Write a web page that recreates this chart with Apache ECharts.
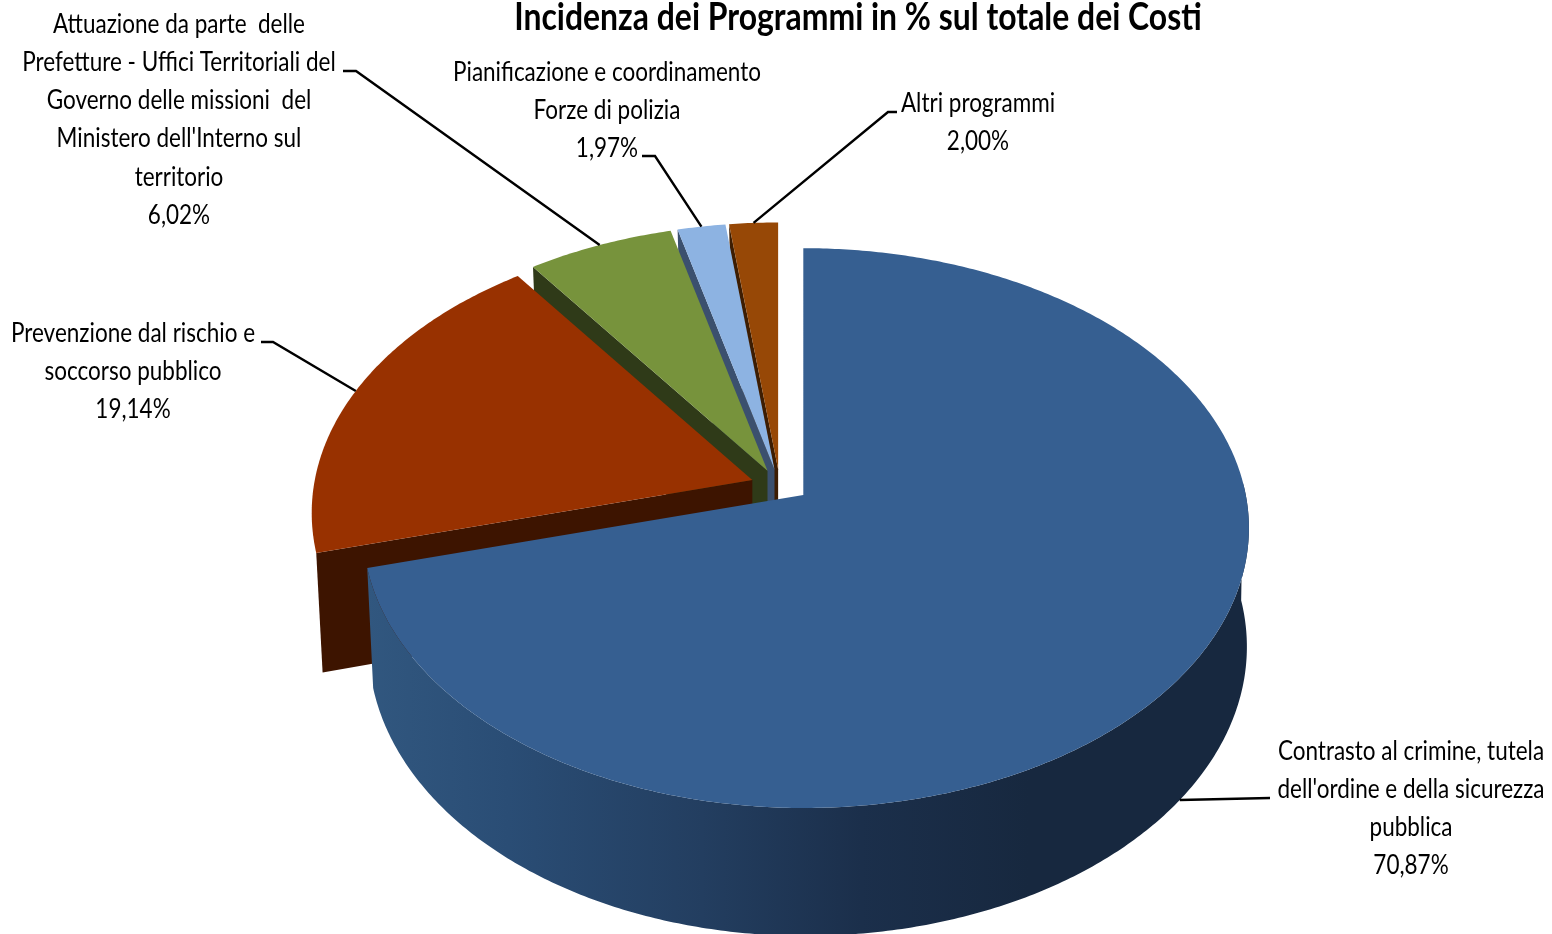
<!DOCTYPE html>
<html>
<head>
<meta charset="utf-8">
<style>html,body{margin:0;padding:0;background:#fff;overflow:hidden}#c{width:1552px;height:934px}</style>
<script src="https://cdn.jsdelivr.net/npm/echarts@6/dist/echarts.min.js"></script>
</head>
<body>
<div id="c"></div>
<script>
const chartTitle = "Incidenza dei Programmi in % sul totale dei Costi";
const categories = [
  "Contrasto al crimine, tutela\ndell'ordine e della sicurezza\npubblica",
  "Prevenzione dal rischio e\nsoccorso pubblico",
  "Attuazione da parte  delle\nPrefetture - Uffici Territoriali del\nGoverno delle missioni  del\nMinistero dell'Interno sul\nterritorio",
  "Pianificazione e coordinamento\nForze di polizia",
  "Altri programmi"
];
const values = [70.87, 19.14, 6.02, 1.97, 2.00];
const valueLabels = ["70,87%", "19,14%", "6,02%", "1,97%", "2,00%"];

// styling
const topColors = ["#365f91", "#983100", "#77933c", "#8db3e2", "#974806"];
const sideColors = ["#17283f", "#3d1400", "#2f3a18", "#3b506e", "#3d1d02"];
const FONT = 'Lato,"Liberation Sans",sans-serif';

// projection of the exploded pie (layout only)
const VIEW = {cx: 780, cy: 485.3, ex: 29.4, ey: 16, rxRight: 442.5, rxLeft: 437.5, ry: 276, k: 0.118,
              vx: 1024, vy: 495, sx: 0.991, sy: 1.033, dy: 117.6};
// label placement (layout only)
const labelBox = [
  {x: 1411, y: 732},
  {x: 133, y: 314},
  {x: 179, y: 5},
  {x: 607, y: 53},
  {x: 978, y: 84}
];
const leaderElbow = [
  [[1270, 798]],
  [[273, 342], [261, 342]],
  [[356, 71], [343, 71]],
  [[655, 156], [642, 156]],
  [[888, 112], [897, 112]]
];
const LINE_H = 38.3;
const LABEL_SCALE = 0.865;
const TITLE_SCALE = 0.84;

const total = values.reduce((a, b) => a + b, 0);
const starts = [];
values.reduce((acc, v, i) => { starts[i] = acc; return acc + v; }, 0);

function apex(i) {
  const mid = (starts[i] + values[i] / 2) / total * 2 * Math.PI;
  return [VIEW.cx + VIEW.ex * Math.sin(mid), VIEW.cy - VIEW.ey * Math.cos(mid)];
}
function rim(i, theta) {
  const a = apex(i);
  const u = Math.sin(theta), v = Math.cos(theta), w = 1 + VIEW.k * v;
  return [a[0] + (u < 0 ? VIEW.rxLeft : VIEW.rxRight) * u / w, a[1] - VIEW.ry * v / w];
}
function lower(p) {
  return [VIEW.vx + (p[0] - VIEW.vx) * VIEW.sx, VIEW.vy + (p[1] - VIEW.vy) * VIEW.sy + VIEW.dy];
}

function renderSlice(params, api) {
  const i = params.dataIndex;
  const val = api.value(0);
  const t0 = starts[i] / total * 2 * Math.PI;
  const t1 = (starts[i] + val) / total * 2 * Math.PI;
  const steps = Math.max(6, Math.ceil((t1 - t0) / 0.01));
  const arc = [], frontArc = [];
  for (let s = 0; s <= steps; s++) {
    const t = t0 + (t1 - t0) * s / steps;
    const p = rim(i, t);
    arc.push(p);
    if (Math.cos(t) < 0.05) frontArc.push(p);
  }
  const a = apex(i);
  const base = (values.length - i) * 10;
  const children = [];
  if (i > 0) {
    // the cut edge that faces the viewer
    children.push({
      type: "polygon", z2: base,
      shape: {points: [a, arc[0], lower(arc[0]), [a[0], lower(a)[1]]]},
      style: {fill: sideColors[i]}
    });
  } else {
    // the rounded outer wall of the main slice, shaded from left to right
    children.push({
      type: "polygon", z2: base + 1,
      shape: {points: frontArc.concat(frontArc.map(lower).reverse())},
      style: {
        fill: new echarts.graphic.LinearGradient(367, 0, 1249, 0, [
          {offset: 0, color: "#31577f"},
          {offset: 0.16, color: "#2a4d75"},
          {offset: 0.38, color: "#233e60"},
          {offset: 0.56, color: "#1b2f4b"},
          {offset: 0.75, color: sideColors[0]},
          {offset: 1, color: sideColors[0]}
        ], true)
      }
    });
  }
  children.push({
    type: "polygon", z2: base + 2,
    shape: {points: [a].concat(arc)},
    style: {fill: topColors[i]}
  });
  // leader line
  const midT = (t0 + t1) / 2;
  let anchor = rim(i, midT);
  if (Math.cos(midT) < 0) anchor = lower(anchor);
  children.push({
    type: "polyline", z2: 900,
    shape: {points: [anchor].concat(leaderElbow[i])},
    style: {stroke: "#000", lineWidth: 2.4, fill: null}
  });
  // label
  children.push({
    type: "text", z2: 1000,
    x: labelBox[i].x, y: labelBox[i].y, scaleX: LABEL_SCALE,
    style: {
      text: categories[i] + "\n" + valueLabels[i],
      x: 0, y: 0,
      align: "center", verticalAlign: "top",
      fill: "#000", font: '26px ' + FONT, lineHeight: LINE_H
    }
  });
  if (i === 0) {
    children.push({
      type: "text", z2: 1000,
      x: 858, y: -1, scaleX: TITLE_SCALE,
      style: {
        text: chartTitle, x: 0, y: 0,
        align: "center", verticalAlign: "top",
        fill: "#000", font: 'bold 38px ' + FONT
      }
    });
  }
  return {type: "group", children};
}

const chart = echarts.init(document.getElementById("c"), null, {renderer: "canvas"});
chart.setOption({
  animation: false,
  backgroundColor: "#fff",
  series: [{
    type: "custom",
    coordinateSystem: "none",
    clip: false,
    renderItem: renderSlice,
    data: values.map((v, i) => ({name: categories[i], value: [v]}))
  }]
});
</script>
</body>
</html>
